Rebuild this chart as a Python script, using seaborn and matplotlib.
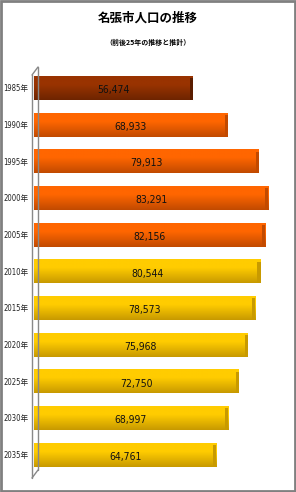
import numpy as np
import matplotlib
matplotlib.use("Agg")
import matplotlib.pyplot as plt
import matplotlib.colors as mcolors
from matplotlib.patches import Rectangle
from matplotlib.lines import Line2D
import seaborn as sns

years = ['1985年', '1990年', '1995年', '2000年', '2005年', '2010年',
         '2015年', '2020年', '2025年', '2030年', '2035年']
population = [56474, 68933, 79913, 83291, 82156, 80544, 78573, 75968, 72750, 68997, 64761]
bar_colors = ['#993300'] + ['#FF6600'] * 4 + ['#FFCC00'] * 6
dark_colors = ['#6E2400'] + ['#C24A00'] * 4 + ['#C89A00'] * 6
labels = [f'{v:,}' for v in population]

sns.set_theme(style='white')
plt.rcParams['font.family'] = ['Noto Sans CJK JP', 'DejaVu Sans']

fig = plt.figure(figsize=(2.96, 4.92), dpi=100)
ax = fig.add_axes([34/296, 1 - 473/492, (290-34)/296, (473-69.6)/492])

sns.barplot(x=population, y=years, hue=years, palette=bar_colors, legend=False,
            orient='h', width=0.65, ax=ax, saturation=1)
ax.set_xlim(0, 91000)
ylim = ax.get_ylim()
xlim = ax.get_xlim()

for p, c1, c2, lab in zip(ax.patches, bar_colors, dark_colors, labels):
    x0, y0 = p.get_x(), p.get_y()
    w, h = p.get_width(), p.get_height()
    a = np.array(mcolors.to_rgb(c1))
    b = np.array(mcolors.to_rgb(c2))
    t = np.linspace(0, 1, 40)[:, None]
    t = np.clip((t - 0.35) / 0.65, 0, 1)
    grad = (a * (1 - t) + b * t)[:, None, :]
    im = ax.imshow(grad, extent=(x0, x0 + w, y0 + h, y0), origin='upper',
                   aspect='auto', zorder=3)
    im.set_clip_path(p)
    cap_w = 1100
    ax.add_patch(Rectangle((x0 + w - cap_w, y0 + 0.06), cap_w, h - 0.06,
                           color=c2 if c1 != '#993300' else '#5A1D00', zorder=4, lw=0))
    ax.text(x0 + w / 2, y0 + h / 2 + 0.06, lab, ha='center', va='center',
            fontsize=7.5, color='#111111', zorder=5, fontstretch='condensed',
            family=['DejaVu Sans'])

ax.set_xlim(xlim)
ax.set_ylim(ylim)
ax.set_xlabel('')
ax.set_ylabel('')
ax.set_xticks([])
for s in ax.spines.values():
    s.set_visible(False)
ax.tick_params(axis='y', length=0, pad=4)
for tl in ax.get_yticklabels():
    tl.set_fontsize(5.5)
    tl.set_fontstretch('condensed')
    tl.set_family(['DejaVu Sans', 'Noto Sans CJK JP'])
    tl.set_color('#222222')

gray = '#888888'
def fx(px):
    return px / 296
def fy(py):
    return 1 - py / 492
fig.add_artist(Line2D([fx(32), fx(32)], [fy(75), fy(478)], color=gray, lw=1))
fig.add_artist(Line2D([fx(32), fx(38)], [fy(75), fy(67)], color=gray, lw=1))
fig.add_artist(Line2D([fx(38), fx(38)], [fy(67), fy(470)], color=gray, lw=1))
fig.add_artist(Line2D([fx(32), fx(38)], [fy(478), fy(470)], color=gray, lw=1))

fig.text(0.5, fy(18), '名張市人口の推移', ha='center', va='center',
         fontsize=9, fontweight='bold', color='black')
fig.text(0.5, fy(42), '（前後25年の推移と推計）', ha='center', va='center',
         fontsize=5, fontweight='bold', color='black')

fig.add_artist(Rectangle((0.002, 0.002), 0.995, 0.995, transform=fig.transFigure,
                         fill=False, edgecolor='#808080', lw=2))

fig.savefig('out.png', dpi=100)
